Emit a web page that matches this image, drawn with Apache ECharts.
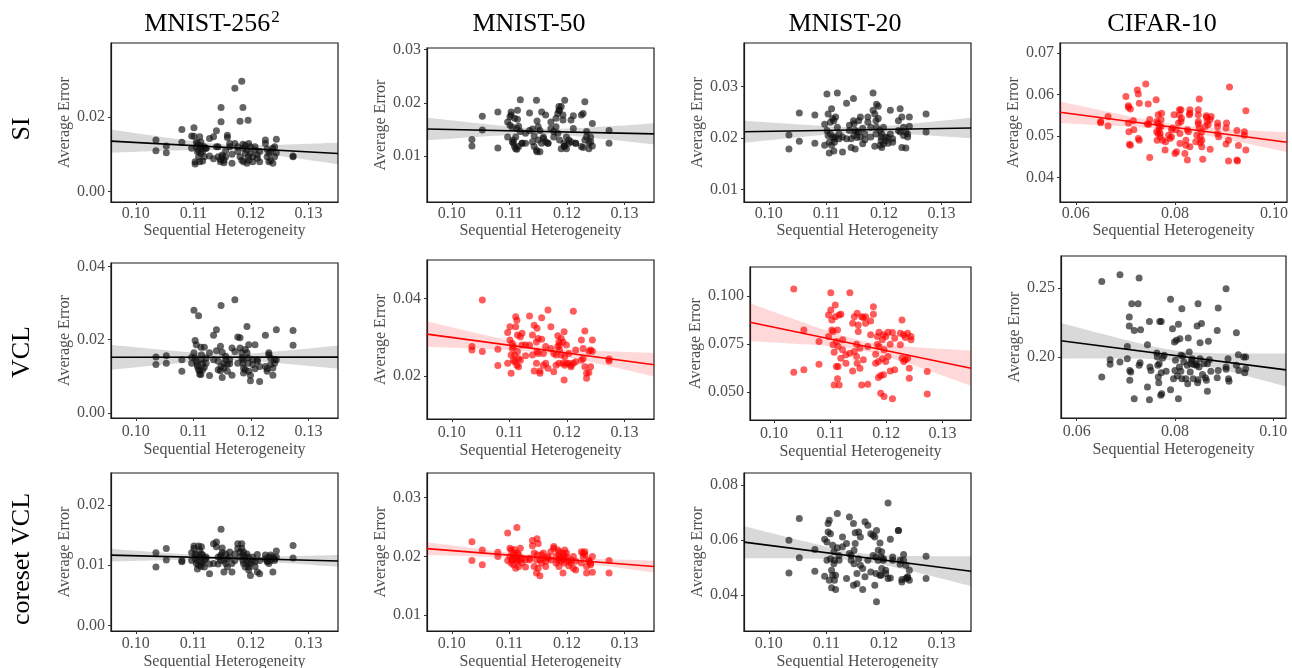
<!DOCTYPE html>
<html>
<head>
<meta charset="utf-8">
<script src="https://cdn.jsdelivr.net/npm/echarts@6/dist/echarts.min.js"></script>
<style>
html,body{margin:0;padding:0;background:#fff;}
#chart{width:1292px;height:668px;}
</style>
</head>
<body>
<div id="chart"></div>
<script>
// ---------------- DATA ----------------
const colTitles = ['MNIST-256', 'MNIST-50', 'MNIST-20', 'CIFAR-10'];
const rowTitles = ['SI', 'VCL', 'coreset VCL'];
const xName = 'Sequential Heterogeneity';
const yName = 'Average Error';

const mnistXTicks = [0.10, 0.11, 0.12, 0.13];
const cifarXTicks = [0.06, 0.08, 0.10];

// Sequential heterogeneity of the MNIST task sequences (shared by all MNIST panels)
const mnistX = [
  0.1035,0.1035,0.1053,0.1053,0.1080,0.1080,0.1097,0.1097,
  0.1101,0.1101,0.1103,0.1103,0.1105,0.1105,0.1107,0.1107,0.1109,0.1109,0.1111,0.1111,0.1113,0.1113,0.1114,0.1114,0.1116,0.1116,0.1119,0.1119,0.1122,0.1122,
  0.1128,0.1128,0.1135,0.1135,
  0.1140,0.1140,0.1143,0.1143,0.1147,0.1147,0.1148,0.1148,0.1150,0.1150,0.1153,0.1153,0.1156,0.1156,0.1159,0.1159,0.1163,0.1163,0.1167,0.1167,
  0.1172,0.1172,0.1177,0.1177,0.1181,0.1181,0.1184,0.1184,0.1186,0.1186,0.1187,0.1187,0.1190,0.1190,0.1193,0.1193,0.1195,0.1195,0.1196,0.1196,0.1199,0.1199,0.1203,0.1203,0.1207,0.1207,0.1211,0.1211,0.1215,0.1215,
  0.1225,0.1225,0.1228,0.1228,0.1231,0.1231,0.1234,0.1234,0.1238,0.1238,0.1241,0.1241,0.1244,0.1244,
  0.1273,0.1273
];

const siMnist256 = [
  0.0138,0.0109,0.0122,0.0104,0.0166,0.0132,0.0149,0.0116,
  0.0171,0.0148,0.0080,0.0074,0.0133,0.0120,0.0107,0.0129,0.0093,0.0111,0.0080,0.0147,0.0102,0.0133,0.0122,0.0116,0.0107,0.0082,0.0093,0.0120,0.0116,0.0116,
  0.0095,0.0142,0.0147,0.0088,
  0.0163,0.0120,0.0120,0.0093,0.0086,0.0080,0.0225,0.0187,0.0098,0.0093,0.0084,0.0077,0.0093,0.0109,0.0151,0.0145,0.0129,0.0120,0.0100,0.0076,
  0.0276,0.0129,0.0120,0.0107,0.0188,0.0093,0.0084,0.0295,0.0225,0.0127,0.0116,0.0080,0.0102,0.0124,0.0111,0.0076,0.0093,0.0191,0.0084,0.0129,0.0120,0.0102,0.0093,0.0080,0.0111,0.0120,0.0098,0.0089,0.0080,0.0107,
  0.0138,0.0129,0.0113,0.0093,0.0080,0.0102,0.0107,0.0083,0.0116,0.0076,0.0120,0.0093,0.0140,0.0104,
  0.0095,0.0093
];
const siMnist50 = [
  0.0131,0.0119,0.0175,0.0149,0.0183,0.0115,0.0164,0.0136,
  0.0174,0.0158,0.0177,0.0183,0.0127,0.0154,0.0124,0.0130,0.0171,0.0118,0.0136,0.0114,0.0152,0.0113,0.0186,0.0169,0.0118,0.0156,0.0146,0.0206,0.0124,0.0124,
  0.0124,0.0143,0.0181,0.0148,
  0.0127,0.0151,0.0118,0.0138,0.0111,0.0205,0.0108,0.0166,0.0155,0.0130,0.0148,0.0108,0.0183,0.0124,0.0133,0.0136,0.0177,0.0127,0.0124,0.0124,
  0.0152,0.0164,0.0146,0.0136,0.0155,0.0171,0.0143,0.0180,0.0186,0.0193,0.0130,0.0186,0.0193,0.0114,0.0177,0.0168,0.0118,0.0124,0.0119,0.0205,0.0114,0.0136,0.0130,0.0124,0.0127,0.0168,0.0176,0.0152,0.0124,0.0124,
  0.0118,0.0177,0.0116,0.0180,0.0202,0.0130,0.0136,0.0146,0.0124,0.0114,0.0136,0.0127,0.0161,0.0119,
  0.0148,0.0124
];
const siMnist20 = [
  0.0206,0.0179,0.0249,0.0194,0.0245,0.0190,0.0227,0.0186,
  0.0286,0.0215,0.0205,0.0247,0.0192,0.0171,0.0208,0.0231,0.0257,0.0186,0.0238,0.0202,0.0175,0.0234,0.0199,0.0192,0.0202,0.0241,0.0288,0.0221,0.0199,0.0208,
  0.0173,0.0202,0.0268,0.0199,
  0.0225,0.0215,0.0199,0.0182,0.0277,0.0234,0.0205,0.0228,0.0215,0.0179,0.0212,0.0201,0.0234,0.0212,0.0202,0.0241,0.0219,0.0189,0.0197,0.0208,
  0.0231,0.0241,0.0202,0.0221,0.0288,0.0254,0.0184,0.0247,0.0234,0.0208,0.0266,0.0221,0.0238,0.0262,0.0186,0.0215,0.0202,0.0195,0.0208,0.0182,0.0189,0.0221,0.0195,0.0202,0.0190,0.0201,0.0254,0.0208,0.0192,0.0199,
  0.0234,0.0215,0.0257,0.0212,0.0182,0.0241,0.0205,0.0221,0.0212,0.0181,0.0208,0.0202,0.0241,0.0223,
  0.0247,0.0212
];
const vclMnist256 = [
  0.0153,0.0132,0.0156,0.0136,0.0145,0.0114,0.0152,0.0136,
  0.0280,0.0164,0.0150,0.0198,0.0186,0.0141,0.0127,0.0132,0.0118,0.0265,0.0106,0.0115,0.0179,0.0105,0.0159,0.0145,0.0118,0.0135,0.0125,0.0179,0.0150,0.0136,
  0.0102,0.0164,0.0212,0.0145,
  0.0227,0.0170,0.0118,0.0141,0.0182,0.0115,0.0127,0.0293,0.0166,0.0097,0.0136,0.0123,0.0155,0.0145,0.0132,0.0114,0.0145,0.0134,0.0103,0.0177,
  0.0168,0.0309,0.0136,0.0207,0.0205,0.0177,0.0164,0.0150,0.0145,0.0136,0.0123,0.0109,0.0118,0.0173,0.0164,0.0236,0.0150,0.0136,0.0186,0.0114,0.0088,0.0103,0.0145,0.0132,0.0186,0.0121,0.0141,0.0145,0.0086,0.0127,
  0.0212,0.0127,0.0121,0.0114,0.0164,0.0159,0.0132,0.0150,0.0123,0.0103,0.0136,0.0145,0.0227,0.0145,
  0.0225,0.0185
];
const vclMnist50 = [
  0.0276,0.0267,0.0396,0.0263,0.0269,0.0227,0.0312,0.0233,
  0.0327,0.0293,0.0254,0.0207,0.0271,0.0284,0.0241,0.0276,0.0254,0.0237,0.0327,0.0353,0.0228,0.0344,0.0306,0.0263,0.0245,0.0224,0.0301,0.0241,0.0280,0.0310,
  0.0280,0.0252,0.0355,0.0280,
  0.0306,0.0254,0.0213,0.0331,0.0233,0.0288,0.0323,0.0263,0.0258,0.0297,0.0213,0.0207,0.0350,0.0295,0.0258,0.0228,0.0276,0.0233,0.0220,0.0370,
  0.0271,0.0327,0.0258,0.0211,0.0254,0.0228,0.0304,0.0276,0.0233,0.0288,0.0280,0.0267,0.0254,0.0297,0.0233,0.0288,0.0314,0.0190,0.0250,0.0228,0.0233,0.0280,0.0258,0.0233,0.0224,0.0228,0.0367,0.0233,0.0267,0.0237,
  0.0293,0.0241,0.0271,0.0245,0.0224,0.0316,0.0194,0.0207,0.0264,0.0209,0.0267,0.0224,0.0293,0.0264,
  0.0244,0.0239
];
const vclMnist20 = [
  0.1036,0.0602,0.0823,0.0615,0.0762,0.0644,0.0901,0.0788,
  0.1017,0.0927,0.0875,0.0823,0.0814,0.0745,0.0707,0.0536,0.0953,0.0892,0.0762,0.0632,0.0568,0.0823,0.0736,0.0632,0.0901,0.0536,0.0675,0.0904,0.0771,0.0719,
  0.0693,0.0649,0.1017,0.0701,
  0.0858,0.0609,0.0710,0.0892,0.0684,0.0748,0.0649,0.0910,0.0849,0.0814,0.0727,0.0623,0.0892,0.0536,0.0887,0.0667,0.0892,0.0858,0.0540,0.0736,
  0.0870,0.0797,0.0944,0.0904,0.0696,0.0649,0.0748,0.0788,0.0658,0.0575,0.0811,0.0736,0.0493,0.0585,0.0771,0.0672,0.0797,0.0589,0.0476,0.0719,0.0658,0.0788,0.0811,0.0684,0.0748,0.0609,0.0464,0.0809,0.0615,0.0780,
  0.0745,0.0806,0.0875,0.0675,0.0658,0.0797,0.0667,0.0783,0.0806,0.0675,0.0623,0.0571,0.0788,0.0771,
  0.0606,0.0488
];
const coresetMnist256 = [
  0.0121,0.0097,0.0128,0.0109,0.0108,0.0106,0.0121,0.0108,
  0.0132,0.0128,0.0119,0.0111,0.0103,0.0117,0.0094,0.0108,0.0132,0.0100,0.0125,0.0114,0.0106,0.0098,0.0119,0.0131,0.0117,0.0103,0.0108,0.0097,0.0111,0.0114,
  0.0086,0.0102,0.0136,0.0103,
  0.0139,0.0131,0.0114,0.0102,0.0108,0.0114,0.0117,0.0160,0.0129,0.0121,0.0089,0.0108,0.0103,0.0119,0.0111,0.0097,0.0122,0.0114,0.0103,0.0089,
  0.0108,0.0119,0.0136,0.0128,0.0114,0.0122,0.0136,0.0128,0.0117,0.0108,0.0103,0.0122,0.0097,0.0114,0.0119,0.0108,0.0114,0.0103,0.0097,0.0092,0.0083,0.0103,0.0108,0.0114,0.0106,0.0098,0.0118,0.0089,0.0086,0.0108,
  0.0117,0.0111,0.0106,0.0108,0.0103,0.0114,0.0108,0.0117,0.0114,0.0089,0.0108,0.0111,0.0114,0.0124,
  0.0133,0.0112
];
const coresetMnist50 = [
  0.0225,0.0193,0.0211,0.0186,0.0207,0.0200,0.0240,0.0193,
  0.0214,0.0200,0.0189,0.0211,0.0197,0.0194,0.0206,0.0186,0.0201,0.0212,0.0197,0.0180,0.0192,0.0249,0.0206,0.0194,0.0203,0.0183,0.0214,0.0194,0.0197,0.0189,
  0.0195,0.0182,0.0194,0.0197,
  0.0227,0.0218,0.0183,0.0206,0.0194,0.0172,0.0203,0.0230,0.0222,0.0180,0.0194,0.0167,0.0203,0.0189,0.0197,0.0206,0.0183,0.0192,0.0200,0.0197,
  0.0208,0.0194,0.0217,0.0214,0.0189,0.0200,0.0211,0.0194,0.0203,0.0183,0.0197,0.0208,0.0192,0.0197,0.0206,0.0172,0.0189,0.0200,0.0211,0.0195,0.0200,0.0206,0.0184,0.0192,0.0189,0.0194,0.0200,0.0180,0.0192,0.0177,
  0.0208,0.0189,0.0200,0.0206,0.0208,0.0203,0.0172,0.0183,0.0192,0.0194,0.0186,0.0189,0.0200,0.0173,
  0.0193,0.0172
];
const coresetMnist20 = [
  0.0600,0.0481,0.0679,0.0536,0.0566,0.0487,0.0604,0.0469,
  0.0527,0.0594,0.0661,0.0630,0.0455,0.0673,0.0624,0.0533,0.0491,0.0427,0.0582,0.0473,0.0558,0.0515,0.0527,0.0455,0.0473,0.0421,0.0573,0.0697,0.0527,0.0545,
  0.0576,0.0612,0.0588,0.0461,
  0.0685,0.0552,0.0545,0.0527,0.0436,0.0661,0.0564,0.0515,0.0627,0.0588,0.0442,0.0479,0.0630,0.0533,0.0612,0.0509,0.0497,0.0421,0.0667,0.0467,
  0.0655,0.0527,0.0624,0.0485,0.0618,0.0545,0.0436,0.0612,0.0539,0.0479,0.0376,0.0636,0.0564,0.0527,0.0590,0.0473,0.0539,0.0473,0.0497,0.0558,0.0533,0.0527,0.0491,0.0479,0.0736,0.0461,0.0604,0.0463,0.0527,0.0539,
  0.0636,0.0636,0.0513,0.0527,0.0457,0.0448,0.0548,0.0527,0.0509,0.0461,0.0464,0.0467,0.0455,0.0491,
  0.0542,0.0461
];

// CIFAR-10 panels: [sequential heterogeneity, average error]
const siCifar = [
  [0.0650,0.0535],[0.0650,0.0532],[0.0665,0.0547],[0.0665,0.0524],[0.0701,0.0595],[0.0706,0.0573],[0.0706,0.0569],[0.0706,0.0531],
  [0.0707,0.0510],[0.0708,0.0480],[0.0710,0.0478],[0.0710,0.0565],[0.0716,0.0537],[0.0717,0.0515],[0.0724,0.0611],[0.0726,0.0601],
  [0.0728,0.0579],[0.0726,0.0494],[0.0728,0.0490],[0.0741,0.0625],[0.0746,0.0577],[0.0749,0.0540],[0.0749,0.0448],[0.0744,0.0529],
  [0.0747,0.0528],[0.0762,0.0587],[0.0763,0.0535],[0.0763,0.0510],[0.0764,0.0490],[0.0766,0.0551],[0.0766,0.0531],[0.0768,0.0523],
  [0.0768,0.0515],[0.0770,0.0506],[0.0770,0.0498],[0.0772,0.0523],[0.0772,0.0539],[0.0773,0.0555],[0.0775,0.0490],[0.0766,0.0506],
  [0.0781,0.0486],[0.0780,0.0466],[0.0787,0.0502],[0.0790,0.0494],[0.0793,0.0498],[0.0795,0.0519],[0.0793,0.0515],[0.0798,0.0551],
  [0.0800,0.0458],[0.0802,0.0515],[0.0803,0.0462],[0.0807,0.0531],[0.0809,0.0551],[0.0810,0.0506],[0.0810,0.0482],[0.0812,0.0535],
  [0.0813,0.0543],[0.0809,0.0563],[0.0812,0.0563],[0.0820,0.0458],[0.0822,0.0478],[0.0822,0.0490],[0.0825,0.0515],[0.0827,0.0510],
  [0.0829,0.0551],[0.0830,0.0563],[0.0830,0.0555],[0.0825,0.0442],[0.0830,0.0474],[0.0847,0.0563],[0.0847,0.0551],[0.0847,0.0535],
  [0.0847,0.0529],[0.0849,0.0519],[0.0851,0.0498],[0.0851,0.0484],[0.0844,0.0502],[0.0842,0.0486],[0.0849,0.0589],[0.0854,0.0490],
  [0.0854,0.0474],[0.0856,0.0444],[0.0854,0.0510],[0.0861,0.0523],[0.0863,0.0549],[0.0864,0.0545],[0.0865,0.0535],[0.0867,0.0527],
  [0.0871,0.0540],[0.0873,0.0547],[0.0871,0.0468],[0.0886,0.0531],[0.0886,0.0523],[0.0886,0.0506],[0.0888,0.0498],[0.0903,0.0519],
  [0.0903,0.0481],[0.0904,0.0531],[0.0908,0.0490],[0.0908,0.0440],[0.0910,0.0618],[0.0925,0.0513],[0.0925,0.0442],[0.0926,0.0440],
  [0.0928,0.0477],[0.0940,0.0510],[0.0940,0.0502],[0.0943,0.0561],[0.0943,0.0466]
];
const vclCifar = [
  [0.0651,0.2548],[0.0651,0.1855],[0.0668,0.1981],[0.0668,0.1947],[0.0688,0.2597],[0.0688,0.1964],[0.0703,0.2077],[0.0703,0.1988],
  [0.0707,0.2290],[0.0707,0.2225],[0.0708,0.1903],[0.0710,0.1891],[0.0708,0.1831],[0.0712,0.2386],[0.0717,0.2193],[0.0717,0.1698],
  [0.0725,0.2386],[0.0727,0.2572],[0.0727,0.1940],[0.0729,0.1959],[0.0730,0.2198],[0.0744,0.2089],[0.0744,0.1783],[0.0748,0.2258],
  [0.0749,0.1928],[0.0751,0.1903],[0.0748,0.1691],[0.0763,0.2029],[0.0764,0.2000],[0.0765,0.1940],[0.0766,0.1855],[0.0767,0.1814],
  [0.0768,0.1952],[0.0769,0.2258],[0.0771,0.1722],[0.0772,0.2258],[0.0773,0.1734],[0.0772,0.1886],[0.0775,0.1993],[0.0778,0.2012],
  [0.0782,0.1896],[0.0791,0.1763],[0.0791,0.2418],[0.0795,0.2205],[0.0797,0.1843],[0.0799,0.2109],[0.0800,0.1903],[0.0801,0.1976],
  [0.0803,0.2121],[0.0805,0.1862],[0.0807,0.2237],[0.0807,0.1698],[0.0809,0.1928],[0.0810,0.2133],[0.0812,0.1896],[0.0812,0.2012],
  [0.0814,0.1843],[0.0814,0.2350],[0.0816,0.2007],[0.0818,0.1964],[0.0822,0.1843],[0.0825,0.1940],[0.0826,0.1807],[0.0827,0.2138],
  [0.0829,0.2036],[0.0831,0.1891],[0.0832,0.1952],[0.0834,0.1976],[0.0835,0.1988],[0.0837,0.1843],[0.0839,0.1944],[0.0843,0.1952],
  [0.0844,0.1940],[0.0845,0.2225],[0.0846,0.1814],[0.0847,0.2386],[0.0847,0.1836],[0.0849,0.1928],[0.0851,0.1988],[0.0851,0.2104],
  [0.0854,0.2242],[0.0856,0.1874],[0.0859,0.1952],[0.0862,0.1850],[0.0864,0.1831],[0.0866,0.1952],[0.0866,0.1751],[0.0868,0.2114],
  [0.0870,0.1981],[0.0873,0.1896],[0.0886,0.2193],[0.0886,0.1850],[0.0888,0.2355],[0.0888,0.1903],[0.0904,0.1928],[0.0904,0.1911],
  [0.0904,0.2495],[0.0908,0.1988],[0.0909,0.1843],[0.0910,0.1824],[0.0925,0.2176],[0.0925,0.1940],[0.0929,0.2017],[0.0930,0.1903],
  [0.0940,0.2000],[0.0942,0.1886],[0.0944,0.2000],[0.0944,0.1915]
];

// y tick values per panel
const yTicksSi256 = [0.00, 0.02];
const yTicksSi50 = [0.01, 0.02, 0.03];
const yTicksSi20 = [0.01, 0.02, 0.03];
const yTicksSiCifar = [0.04, 0.05, 0.06, 0.07];
const yTicksVcl256 = [0.00, 0.02, 0.04];
const yTicksVcl50 = [0.02, 0.04];
const yTicksVcl20 = [0.050, 0.075, 0.100];
const yTicksVclCifar = [0.20, 0.25];
const yTicksCs256 = [0.00, 0.01, 0.02];
const yTicksCs50 = [0.01, 0.02, 0.03];
const yTicksCs20 = [0.04, 0.06, 0.08];

// ---------------- PANELS ----------------
const zipXY = (xs, ys) => xs.map((x, i) => [x, ys[i]]);
const BLACK = 'black', RED = 'red';
const panels = [
  {pts: zipXY(mnistX, siMnist256), xt: mnistXTicks, yt: yTicksSi256, col: BLACK},
  {pts: zipXY(mnistX, siMnist50), xt: mnistXTicks, yt: yTicksSi50, col: BLACK},
  {pts: zipXY(mnistX, siMnist20), xt: mnistXTicks, yt: yTicksSi20, col: BLACK},
  {pts: siCifar, xt: cifarXTicks, yt: yTicksSiCifar, col: RED},
  {pts: zipXY(mnistX, vclMnist256), xt: mnistXTicks, yt: yTicksVcl256, col: BLACK},
  {pts: zipXY(mnistX, vclMnist50), xt: mnistXTicks, yt: yTicksVcl50, col: RED},
  {pts: zipXY(mnistX, vclMnist20), xt: mnistXTicks, yt: yTicksVcl20, col: RED, ydec: 3},
  {pts: vclCifar, xt: cifarXTicks, yt: yTicksVclCifar, col: BLACK},
  {pts: zipXY(mnistX, coresetMnist256), xt: mnistXTicks, yt: yTicksCs256, col: BLACK},
  {pts: zipXY(mnistX, coresetMnist50), xt: mnistXTicks, yt: yTicksCs50, col: RED},
  {pts: zipXY(mnistX, coresetMnist20), xt: mnistXTicks, yt: yTicksCs20, col: BLACK}
];

// layout: plot boxes and axis extents (px / axis range)
const MX = [0.0957, 0.1351], CX = [0.0568, 0.1026];
const layout = [
  {l:111, t:43,  w:227, h:159, x:MX, y:[-0.00275, 0.0397], lm:4, ng:20, yg:37},
  {l:427, t:48,  w:227, h:154, x:MX, y:[0.00138, 0.0303],  lm:4, ng:20, yg:38},
  {l:744, t:43,  w:227, h:159, x:MX, y:[0.00758, 0.0385],  lm:4, ng:20, yg:38},
  {l:1060,t:43,  w:227, h:159, x:CX, y:[0.0341, 0.0724],   lm:4, ng:20, yg:37},
  {l:111, t:263, w:227, h:155, x:MX, y:[-0.00136, 0.0409], lm:6, ng:24, yg:37},
  {l:427, t:260, w:227, h:159, x:MX, y:[0.00893, 0.0499],  lm:6, ng:24, yg:37},
  {l:750, t:267, w:221, h:153, x:MX, y:[0.0353, 0.1151],   lm:6, ng:24, yg:44},
  {l:1061,t:256, w:225, h:162, x:CX, y:[0.1558, 0.2732],   lm:6, ng:24, yg:38},
  {l:111, t:473, w:227, h:158, x:MX, y:[-0.00095, 0.02538],lm:5, ng:23, yg:38},
  {l:427, t:473, w:227, h:158, x:MX, y:[0.00733, 0.03418], lm:5, ng:23, yg:38},
  {l:744, t:473, w:227, h:158, x:MX, y:[0.027, 0.08447],   lm:5, ng:23, yg:38}
];

const FONT = 'Liberation Serif';
const TICK_COLOR = '#4d4d4d';

// Ordinary least squares fit with 95% confidence band (as in regplot)
function regression(pts, x0, x1) {
  const n = pts.length;
  let mx = 0, my = 0;
  pts.forEach(p => { mx += p[0]; my += p[1]; });
  mx /= n; my /= n;
  let sxx = 0, sxy = 0;
  pts.forEach(p => { sxx += (p[0]-mx)*(p[0]-mx); sxy += (p[0]-mx)*(p[1]-my); });
  const b = sxy / sxx, a = my - b * mx;
  let sse = 0;
  pts.forEach(p => { const r = p[1] - a - b*p[0]; sse += r*r; });
  const s = Math.sqrt(sse / (n - 2));
  const t = 1.984;
  const upper = [], lower = [];
  const N = 60;
  for (let i = 0; i <= N; i++) {
    const x = x0 + (x1 - x0) * i / N;
    const yh = a + b * x;
    const se = s * Math.sqrt(1/n + (x-mx)*(x-mx)/sxx);
    upper.push([x, yh + t*se]);
    lower.push([x, yh - t*se]);
  }
  return {line: [[x0, a + b*x0], [x1, a + b*x1]], upper, lower};
}

const grids = [], xAxes = [], yAxes = [], series = [];
panels.forEach((p, i) => {
  const L = layout[i];
  grids.push({left: L.l, top: L.t, width: L.w, height: L.h, show: true,
    borderColor: '#1a1a1a', borderWidth: 1.2, backgroundColor: 'transparent',
    containLabel: false, outerBoundsMode: 'none'});
  xAxes.push({
    type: 'value', gridIndex: i, min: L.x[0], max: L.x[1],
    axisLine: {show: true, onZero: false, lineStyle: {color: '#1a1a1a', width: 1.2}},
    splitLine: {show: false},
    axisTick: {show: true, customValues: p.xt, length: 3, lineStyle: {color: '#333'}},
    axisLabel: {customValues: p.xt, formatter: v => v.toFixed(2), fontFamily: FONT, fontSize: 16,
      color: TICK_COLOR, margin: L.lm},
    name: xName, nameLocation: 'middle', nameGap: L.ng,
    nameTextStyle: {fontFamily: FONT, fontSize: 16, color: '#4d4d4d'}
  });
  const dec = p.ydec || 2;
  yAxes.push({
    type: 'value', gridIndex: i, min: L.y[0], max: L.y[1],
    axisLine: {show: true, onZero: false, lineStyle: {color: '#1a1a1a', width: 1.2}},
    splitLine: {show: false},
    axisTick: {show: true, customValues: p.yt, length: 3, lineStyle: {color: '#333'}},
    axisLabel: {customValues: p.yt, formatter: v => v.toFixed(dec), fontFamily: FONT, fontSize: 16,
      color: TICK_COLOR, margin: 6},
    name: yName, nameLocation: 'middle', nameRotate: 90, nameGap: L.yg,
    nameTextStyle: {fontFamily: FONT, fontSize: 16, color: '#4d4d4d'}
  });
  const reg = regression(p.pts, L.x[0], L.x[1]);
  const isRed = p.col === RED;
  const bandFill = isRed ? 'rgba(255,0,0,0.15)' : 'rgba(0,0,0,0.15)';
  const pointColor = isRed ? 'rgba(255,0,0,0.8)' : 'rgba(17,17,17,0.82)';
  const lineColor = isRed ? '#ff0000' : '#000000';
  series.push({
    type: 'custom', xAxisIndex: i, yAxisIndex: i, silent: true, z: 1,
    data: [reg.line[0]],
    renderItem: (params, api) => {
      const pts = reg.upper.map(q => api.coord(q))
        .concat(reg.lower.slice().reverse().map(q => api.coord(q)));
      return {type: 'polygon', shape: {points: pts}, style: {fill: bandFill, stroke: null}};
    }
  });
  series.push({
    type: 'scatter', xAxisIndex: i, yAxisIndex: i, z: 2, silent: true,
    symbol: 'circle', symbolSize: 7, data: p.pts,
    itemStyle: {color: pointColor, borderWidth: 0}
  });
  series.push({
    type: 'line', xAxisIndex: i, yAxisIndex: i, z: 3, silent: true,
    data: reg.line, showSymbol: false, symbol: 'none',
    lineStyle: {color: lineColor, width: 1.6}
  });
});

// titles and row labels
const colCenters = [212, 529, 845, 1162];
const rowCenters = [129, 352, 559];
const graphics = [];
colTitles.forEach((t, i) => {
  const txt = i === 0 ? '{a|' + t + '}{b|2}' : '{a|' + t + '}';
  graphics.push({type: 'text', x: colCenters[i], y: 24, z: 10,
    style: {text: txt, align: 'center', verticalAlign: 'middle',
      rich: {a: {fontFamily: FONT, fontSize: 26, fill: '#000', lineHeight: 30},
             b: {fontFamily: FONT, fontSize: 17, fill: '#000', lineHeight: 30, verticalAlign: 'top', padding: [0,0,0,1]}}}});
});
rowTitles.forEach((t, i) => {
  graphics.push({type: 'text', x: 22, y: rowCenters[i], rotation: Math.PI / 2, z: 10,
    style: {text: t, align: 'center', verticalAlign: 'middle', fontFamily: FONT, fontSize: 26, fill: '#000'}});
});

const chart = echarts.init(document.getElementById('chart'), null, {renderer: 'canvas'});
chart.setOption({
  backgroundColor: '#ffffff',
  animation: false,
  grid: grids, xAxis: xAxes, yAxis: yAxes, series: series,
  graphic: graphics
});
</script>
</body>
</html>
